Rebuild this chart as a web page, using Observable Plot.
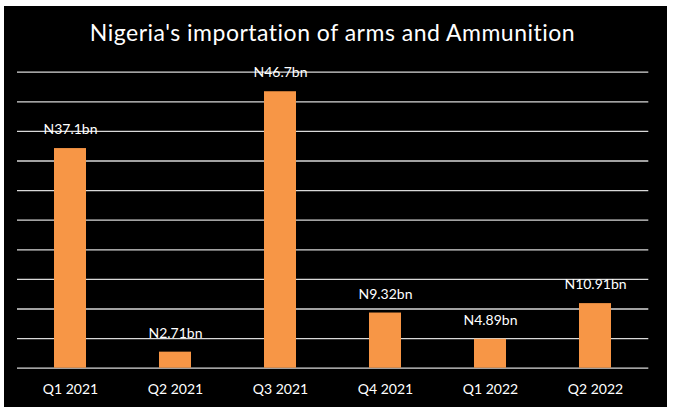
<!DOCTYPE html>
<html>
<head>
<meta charset="utf-8">
<script src="https://cdn.jsdelivr.net/npm/d3@7"></script>
<script src="https://cdn.jsdelivr.net/npm/@observablehq/plot@0.6"></script>
<style>
  html, body { margin: 0; padding: 0; background: #ffffff; }
  #frame { position: absolute; left: 4px; top: 6px; width: 663px; height: 401px; background: #000000; overflow: hidden; }
  #title { position: absolute; left: -3px; top: 15px; width: 663px; text-align: center; font-family: Lato, "Open Sans", sans-serif; font-size: 23px; line-height: 23px; letter-spacing: 0.5px; color: #ffffff; white-space: nowrap; }
  #chart { position: absolute; left: 0; top: 50px; }
</style>
</head>
<body>
<div id="frame">
  <div id="title">Nigeria's importation of arms and Ammunition</div>
  <div id="chart"></div>
</div>
<script>
const quarters = ["Q1 2021", "Q2 2021", "Q3 2021", "Q4 2021", "Q1 2022", "Q2 2022"];
const values = [37.1, 2.71, 46.7, 9.32, 4.89, 10.91];
const valueLabels = ["N37.1bn", "N2.71bn", "N46.7bn", "N9.32bn", "N4.89bn", "N10.91bn"];
const gridTicks = [0, 5, 10, 15, 20, 25, 30, 35, 40, 45, 50];

const data = quarters.map((q, i) => ({quarter: q, value: values[i], label: valueLabels[i]}));

const chart = Plot.plot({
  width: 663,
  height: 351,
  marginTop: 15.7,
  marginBottom: 39.3,
  marginLeft: 13,
  marginRight: 18.7,
  style: {background: "#000000", color: "#ffffff", fontFamily: "Lato, 'Open Sans', sans-serif"},
  x: {domain: quarters, paddingInner: 0.7, paddingOuter: 0.35, label: null},
  y: {domain: [0, 50], axis: null},
  marks: [
    Plot.ruleY(gridTicks, {stroke: "#d9d9d9", strokeWidth: 1.3}),
    Plot.barY(data, {x: "quarter", y: "value", fill: "#F79646"}),
    Plot.text(data, {x: "quarter", y: "value", text: "label", fill: "#ffffff", fontSize: 14, dy: -19}),
    Plot.axisX({tickSize: 0, tickPadding: 16, fontSize: 14, fill: "#ffffff", label: null})
  ]
});
document.getElementById("chart").appendChild(chart);
</script>
</body>
</html>
